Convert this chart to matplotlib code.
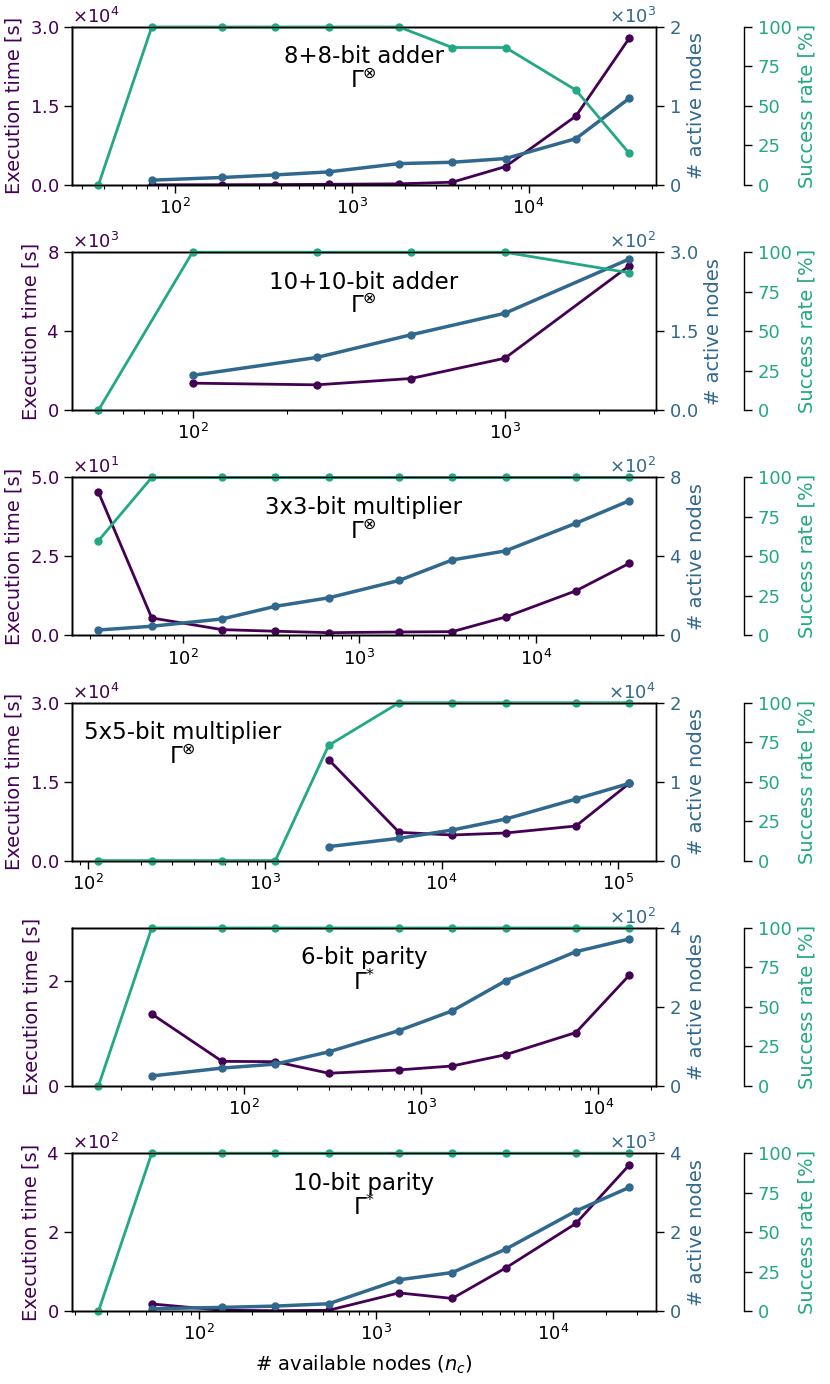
import numpy as np
import matplotlib.pyplot as plt

# colours (viridis picks)
c_time = "#440154"
c_nodes = "#31688e"
c_succ = "#22a884"

titles = ["8+8-bit adder", "10+10-bit adder", "3x3-bit multiplier",
          "5x5-bit multiplier", "6-bit parity", "10-bit parity"]
gammas = [r"$\Gamma^{\otimes}$"] * 4 + [r"$\Gamma^{*}$"] * 2

# 8+8-bit adder
nc_add8 = [37, 74, 185, 370, 740, 1850, 3700, 7400, 18500, 37000]
succ_add8 = [0, 100, 100, 100, 100, 100, 87, 87, 60, 20]
time_add8 = [5, 20, 50, 100, 190, 500, 3470, 13070, 27850]
nodes_add8 = [59, 93, 126, 164, 269, 286, 333, 585, 1095]

# 10+10-bit adder
nc_add10 = [50, 100, 250, 500, 1000, 2500]
succ_add10 = [0, 100, 100, 100, 100, 87]
time_add10 = [1364, 1280, 1600, 2627, 7309]
nodes_add10 = [66, 100, 143, 184, 287]

# 3x3-bit multiplier
nc_mul3 = [33.5, 67, 167.5, 335, 670, 1675, 3350, 6700, 16750, 33500]
succ_mul3 = [60, 100, 100, 100, 100, 100, 100, 100, 100, 100]
time_mul3 = [45.3, 5.5, 1.8, 1.3, 0.84, 1.05, 1.16, 5.8, 14.1, 22.8]
nodes_mul3 = [27, 46, 83, 147, 190, 278, 382, 428, 568, 682]

# 5x5-bit multiplier
nc_mul5 = [115, 230, 575, 1150, 2300, 5750, 11500, 23000, 57500, 115000]
succ_mul5 = [0, 0, 0, 0, 73, 100, 100, 100, 100, 100]
time_mul5 = [19200, 5370, 4860, 5240, 6570, 14650]
nodes_mul5 = [1770, 2820, 3870, 5260, 7790, 9770]

# 6-bit parity
nc_par6 = [15, 30, 75, 150, 300, 750, 1500, 3000, 7500, 15000]
succ_par6 = [0, 100, 100, 100, 100, 100, 100, 100, 100, 100]
time_par6 = [1.365, 0.465, 0.459, 0.239, 0.302, 0.377, 0.591, 1.013, 2.10]
nodes_par6 = [25, 45, 55, 86, 140, 190, 266, 340, 372]

# 10-bit parity
nc_par10 = [27, 54, 135, 270, 540, 1350, 2700, 5400, 13500, 27000]
succ_par10 = [0, 100, 100, 100, 100, 100, 100, 100, 100, 100]
time_par10 = [18, 2, 1, 2, 46, 32, 109, 222, 370]
nodes_par10 = [59, 93, 126, 185, 792, 977, 1566, 2535, 3133]

nc_all = [nc_add8, nc_add10, nc_mul3, nc_mul5, nc_par6, nc_par10]
succ_all = [succ_add8, succ_add10, succ_mul3, succ_mul5, succ_par6, succ_par10]
time_all = [time_add8, time_add10, time_mul3, time_mul5, time_par6, time_par10]
nodes_all = [nodes_add8, nodes_add10, nodes_mul3, nodes_mul5, nodes_par6, nodes_par10]

time_max = [3e4, 8e3, 50, 3e4, 3, 400]
time_ticks = [[0, 1.5e4, 3e4], [0, 4e3, 8e3], [0, 25, 50], [0, 1.5e4, 3e4], [0, 2], [0, 200, 400]]
nodes_max = [2000, 300, 800, 2e4, 400, 4000]

text_x = [0.5, 0.5, 0.5, 0.19, 0.5, 0.5]

plt.rcParams['font.size'] = 13
plt.rcParams['axes.labelsize'] = 14
plt.rcParams['axes.linewidth'] = 1.0
for ax_name in ('xtick', 'ytick'):
    plt.rcParams[ax_name + '.major.size'] = 5.5
    plt.rcParams[ax_name + '.minor.size'] = 3.2
    plt.rcParams[ax_name + '.major.width'] = 1.0
    plt.rcParams[ax_name + '.minor.width'] = 0.8
    plt.rcParams[ax_name + '.major.pad'] = 4

fig, axes = plt.subplots(6, 1, figsize=(8.3, 13.84), dpi=100)
fig.subplots_adjust(left=0.0867, right=0.790, top=0.9805, bottom=0.0527, hspace=0.427)

for i, ax in enumerate(axes):
    nc = np.array(nc_all[i])
    t = time_all[i]
    n = nodes_all[i]
    s = succ_all[i]

    ax2 = ax.twinx()
    ax3 = ax.twinx()
    ax3.spines['right'].set_position(('axes', 1.152))

    ax.plot(nc[-len(t):], t, '-o', color=c_time, lw=2, ms=5)
    ax2.plot(nc[-len(n):], n, '-o', color=c_nodes, lw=2.5, ms=5)
    ax3.plot(nc, s, '-o', color=c_succ, lw=2, ms=5, clip_on=False)

    ax.set_xscale('log')
    ax.set_ylim(0, time_max[i])
    ax.set_yticks(time_ticks[i])
    ax2.set_ylim(0, nodes_max[i])
    ax2.set_yticks(np.linspace(0, nodes_max[i], 3))
    ax3.set_ylim(0, 100)
    ax3.set_yticks([0, 25, 50, 75, 100])

    ax.ticklabel_format(axis='y', style='sci', scilimits=(0, 0), useMathText=True)
    ax2.ticklabel_format(axis='y', style='sci', scilimits=(0, 0), useMathText=True)

    ax.set_ylabel("Execution time [s]", color=c_time)
    ax2.set_ylabel("# active nodes", color=c_nodes)
    ax3.set_ylabel("Success rate [%]", color=c_succ)
    ax.tick_params(axis='y', labelcolor=c_time)
    ax2.tick_params(axis='y', labelcolor=c_nodes)
    ax3.tick_params(axis='y', labelcolor=c_succ)
    ax.yaxis.get_offset_text().set_color(c_time)
    ax2.yaxis.get_offset_text().set_color(c_nodes)

    ax.text(text_x[i], 0.81, titles[i], transform=ax.transAxes,
            ha='center', va='center', fontsize=16.5)
    ax.text(text_x[i], 0.655, gammas[i], transform=ax.transAxes,
            ha='center', va='center', fontsize=16.5)

axes[-1].set_xlabel(r"# available nodes ($n_c$)", labelpad=7)

plt.savefig("out.png", dpi=100)
